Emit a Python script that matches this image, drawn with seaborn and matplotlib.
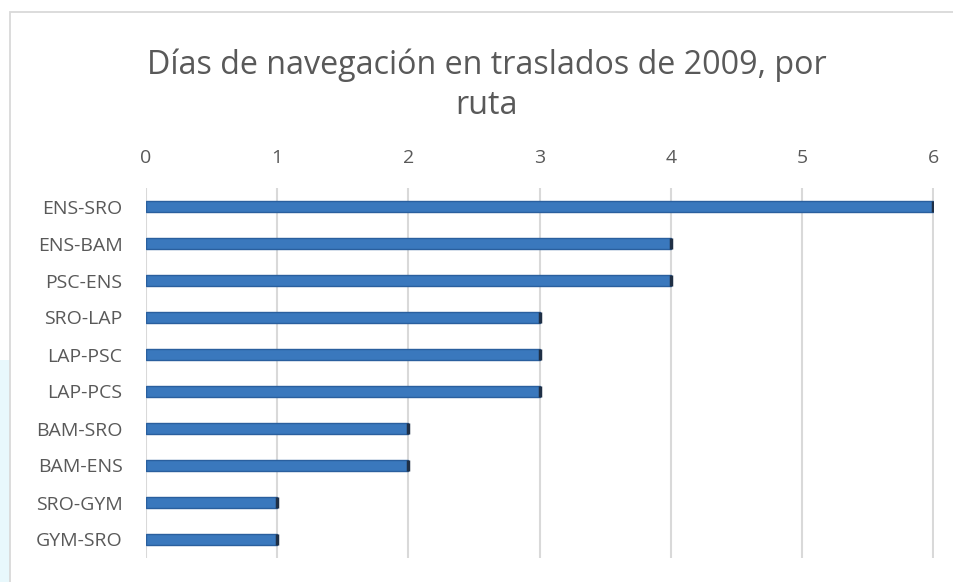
import matplotlib.pyplot as plt
import matplotlib.patches as mpatches
import seaborn as sns
import pandas as pd

rutas = ["ENS-SRO", "ENS-BAM", "PSC-ENS", "SRO-LAP", "LAP-PSC",
         "LAP-PCS", "BAM-SRO", "BAM-ENS", "SRO-GYM", "GYM-SRO"]
dias = [6, 4, 4, 3, 3, 3, 2, 2, 1, 1]
x_ticks = [0, 1, 2, 3, 4, 5, 6]

df = pd.DataFrame({"ruta": rutas, "dias": dias})

sns.set_theme(style="white")
plt.rcParams["font.family"] = ["Open Sans", "DejaVu Sans"]

W, H = 954, 582
fig = plt.figure(figsize=(W / 100, H / 100), dpi=100)
ax = fig.add_axes([146 / W, 1 - 558 / H, (934 - 146) / W, (558 - 188) / H])

# faint cyan band on the left edge
fig.patches.append(mpatches.Rectangle((0, 0), 10 / W, 1 - 360 / H, transform=fig.transFigure,
                                      facecolor="#e8f8fc", edgecolor="none", zorder=0))
# chart border
fig.patches.append(mpatches.Rectangle((10 / W, -0.1), 1.0, 1 - 12 / H + 0.1, transform=fig.transFigure,
                                      facecolor="none", edgecolor="#d9d9d9", linewidth=1.3, zorder=1))

sns.barplot(data=df, x="dias", y="ruta", orient="h", color="#3a78bd", width=0.32,
            edgecolor="#2a5f9e", linewidth=1.0, saturation=1, ax=ax, zorder=3)

# dark caps at the bar ends
for i, v in enumerate(dias):
    ax.plot([v, v], [i - 0.14, i + 0.14], color="#1f2f45", linewidth=2.5, zorder=4,
            solid_capstyle="butt")

ax.set_xlim(0, 6.005)
ax.set_ylim(9.5, -0.5)
ax.set_xticks(x_ticks)
ax.set_xticklabels([str(t) for t in x_ticks])
ax.xaxis.tick_top()
ax.grid(axis="x", color="#d9d9d9", linewidth=1.5, zorder=0)
ax.set_axisbelow(True)
for s in ax.spines.values():
    s.set_visible(False)
ax.tick_params(axis="x", length=0, pad=15, labelsize=14, labelcolor="#595959")
ax.tick_params(axis="y", length=0, pad=17, labelsize=14, labelcolor="#595959")
ax.set_xlabel("")
ax.set_ylabel("")

fig.text(487 / W, 1 - 85 / H, "Días de navegación en traslados de 2009, por\nruta",
         ha="center", va="center", fontsize=23.2, color="#595959", linespacing=1.3)

fig.savefig("out.png", dpi=100)
